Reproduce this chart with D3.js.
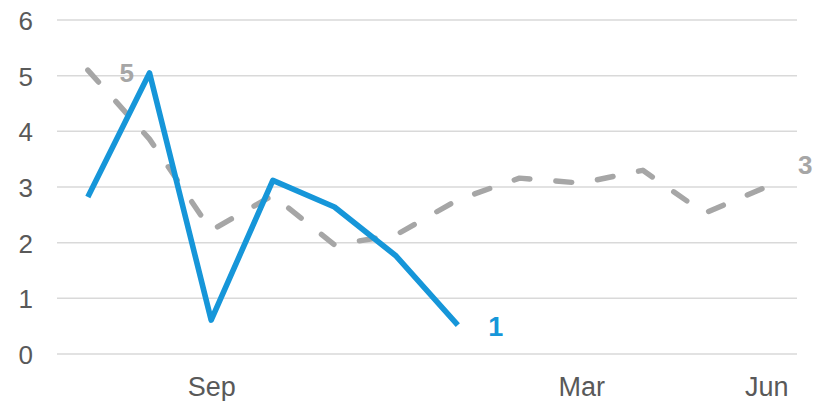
<!DOCTYPE html>
<html><head><meta charset="utf-8">
<script src="https://cdn.jsdelivr.net/npm/d3@7"></script>
<style>body{margin:0;background:#fff}svg{display:block}</style>
</head><body><svg id="c" width="814" height="401"></svg>
<script>
const months = ["Jul","Aug","Sep","Oct","Nov","Dec","Jan","Feb","Mar","Apr","May","Jun"];
const shownTicks = ["Sep","Mar","Jun"];
const grayValues = [5.1,3.86,2.22,2.85,1.96,2.14,2.77,3.16,3.07,3.3,2.53,3.0];
const blueValues = [2.82,5.05,0.61,3.12,2.64,1.76,0.52];
const yTicks = [0,1,2,3,4,5,6];
const grayLabel = [{i:0,text:"5",dx:39,dy:3},{i:11,text:"3",dx:39,dy:-22}];
const blueLabel = [{i:6,text:"1",dx:38,dy:2}];

(function(){
const svg = d3.select("#c");
const mL = 57, mR = 797, mT = 20, mB = 354;
const x = d3.scalePoint().domain(months).range([mL, mR]).padding(0.5);
const y = d3.scaleLinear().domain([0,6]).range([mB, mT]);

const font = "'Liberation Sans', Arial, sans-serif";

svg.append("g").selectAll("line").data(yTicks).join("line")
  .attr("x1", mL).attr("x2", mR)
  .attr("y1", d=>y(d)).attr("y2", d=>y(d))
  .attr("stroke", "#d9d9d9").attr("stroke-width", 1.5);

const yAxis = d3.axisLeft(y).tickValues(yTicks).tickSize(0).tickPadding(0).tickFormat(d3.format("d"));
const gy = svg.append("g").attr("transform", `translate(33,0)`).call(yAxis);
gy.select(".domain").remove();
gy.selectAll("text").attr("fill","#595959").style("font-family",font).style("font-size","26px").attr("dy","0.36em");

const xAxis = d3.axisBottom(x).tickValues(shownTicks).tickSize(0).tickPadding(0);
const gx = svg.append("g").attr("transform", `translate(0,${mB})`).call(xAxis);
gx.select(".domain").remove();
gx.selectAll("text").attr("fill","#595959").style("font-family",font).style("font-size","27px").attr("dy","42").attr("y",0);

const line = d3.line().x((d,i)=>x(months[i])).y(d=>y(d));

svg.append("path").datum(grayValues).attr("d", line)
  .attr("fill","none").attr("stroke","#a6a6a6").attr("stroke-width",5.4)
  .attr("stroke-dasharray","16 26").attr("stroke-linecap","round").attr("stroke-linejoin","round");

svg.append("path").datum(blueValues).attr("d", line)
  .attr("fill","none").attr("stroke","#1696d9").attr("stroke-width",5.6)
  .attr("stroke-linejoin","round");

svg.append("g").selectAll("text").data(grayLabel).join("text")
  .attr("x", d=>x(months[d.i])+d.dx).attr("y", d=>y(grayValues[d.i])+d.dy)
  .attr("text-anchor","middle").attr("dominant-baseline","central")
  .attr("fill","#a6a6a6").style("font-family",font).style("font-weight","bold").style("font-size","26px")
  .text(d=>d.text);

svg.append("g").selectAll("text").data(blueLabel).join("text")
  .attr("x", d=>x(months[d.i])+d.dx).attr("y", d=>y(blueValues[d.i])+d.dy)
  .attr("text-anchor","middle").attr("dominant-baseline","central")
  .attr("fill","#1696d9").style("font-family",font).style("font-weight","bold").style("font-size","27px")
  .text(d=>d.text);
})();
</script></body></html>
